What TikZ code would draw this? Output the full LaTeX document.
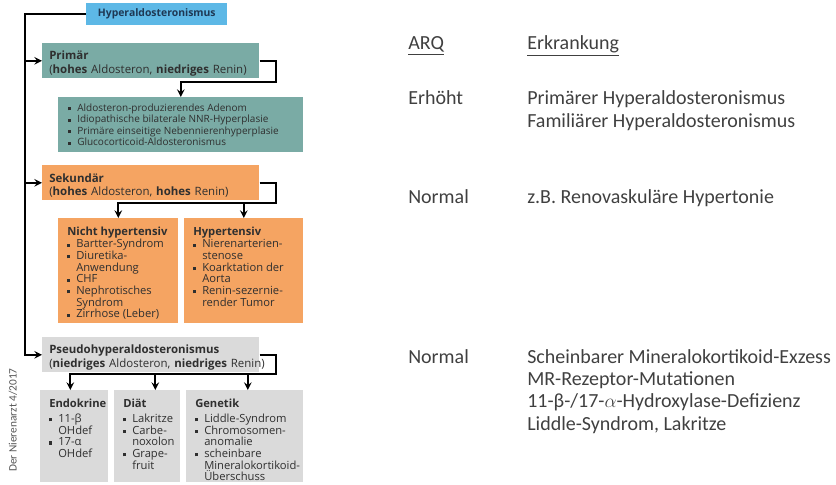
\documentclass[tikz,border=0pt]{standalone}
\usepackage{fontspec}
\setmainfont{Open Sans}
\newfontfamily\calfont{Carlito}

\newlength{\pxu}
\setlength{\pxu}{0.75pt}

\definecolor{hyperblue}{HTML}{5DB8E6}
\definecolor{tealbox}{HTML}{7AABA5}
\definecolor{orangebox}{HTML}{F5A462}
\definecolor{graybox}{HTML}{DADADA}
\definecolor{boxtext}{HTML}{2F2F2F}
\definecolor{navytext}{HTML}{1E3854}
\definecolor{righttext}{HTML}{404040}
\definecolor{srcgray}{HTML}{555555}

\hyphenpenalty=10000
\exhyphenpenalty=10000

% bullet item with hanging indent
\newcommand{\itm}[1]{\par\noindent\hangindent=9\pxu\hangafter=1\makebox[9\pxu][l]{\rule[0.1em]{3.2\pxu}{3.2\pxu}}#1}
% top aligned box contents: width, height, top gap, text
\newcommand{\cellbox}[4]{\parbox[c][#2\pxu][t]{#1\pxu}{\raggedright\leftskip=9\pxu\vspace*{#3\pxu}#4}}
% lines of the table on the right
\newcommand{\rlines}[1]{\parbox[t]{310\pxu}{\raggedright #1}}

\tikzset{
  conn/.style={line width=1.5pt},
  arr/.style={conn,-stealth},
  headbox/.style={anchor=north west, fill=hyperblue, text=navytext, inner sep=0pt,
    minimum width=141\pxu, minimum height=22\pxu, font=\fontsize{7.8}{9}\selectfont\bfseries},
  groupbox/.style={anchor=north west, text=boxtext, text width=203\pxu, inner xsep=7\pxu,
    inner ysep=0pt, minimum height=35\pxu, align=left, font=\fontsize{8.6}{10}\selectfont},
  listbox/.style={anchor=north west, text=boxtext, inner sep=0pt, font=\fontsize{7.5}{8.6}\selectfont},
  subbox/.style={listbox, font=\fontsize{8.4}{8.75}\selectfont},
  rtext/.style={anchor=base west, inner sep=0pt, text=righttext,
    font=\calfont\fontsize{15}{16.8}\selectfont},
}

\begin{document}
\begin{tikzpicture}[x=0.75pt,y=-0.75pt]
  \useasboundingbox (0,0) rectangle (836,485);

  \node[headbox] (hyper) at (86,3) {Hyperaldosteronismus};

  \node[groupbox, fill=tealbox] (prim) at (42,43) {\rule{0pt}{14\pxu}\textbf{Primär}\\\mbox{(\textbf{hohes} Aldosteron, \textbf{niedriges} Renin)}};
  \node[listbox, fill=tealbox] (primlist) at (58,97) {\parbox[c][55\pxu][c]{245\pxu}{\raggedright\leftskip=10\pxu
    \itm{Aldosteron-produzierendes Adenom}
    \itm{Idiopathische bilaterale NNR-Hyperplasie}
    \itm{Primäre einseitige Nebennierenhyperplasie}
    \itm{Glucocorticoid-Aldosteronismus}}};

  \node[groupbox, fill=orangebox] (sek) at (42,165) {\rule{0pt}{14\pxu}\textbf{Sekundär}\\\mbox{(\textbf{hohes} Aldosteron, \textbf{hohes} Renin)}};
  \node[subbox, fill=orangebox] (nht) at (58,218) {\cellbox{120}{105}{8.5}{\textbf{Nicht hypertensiv}\par\vspace{1\pxu}
    \itm{Bartter-Syndrom}
    \itm{Diuretika-\newline Anwendung}
    \itm{CHF}
    \itm{Nephrotisches\newline Syndrom}
    \itm{Zirrhose (Leber)}}};
  \node[subbox, fill=orangebox] (ht) at (184,218) {\cellbox{119}{105}{8.5}{\textbf{Hypertensiv}\par\vspace{1\pxu}
    \itm{Nierenarterien-\newline stenose}
    \itm{Koarktation der\newline Aorta}
    \itm{Renin-sezernie-\newline render Tumor}}};

  \node[groupbox, fill=graybox] (pseudo) at (42,337) {\rule{0pt}{14\pxu}\textbf{Pseudohyperaldosteronismus}\\\mbox{(\textbf{niedriges} Aldosteron, \textbf{niedriges} Renin)}};
  \node[subbox, fill=graybox] (endo) at (40,390) {\cellbox{68}{92}{9}{\textbf{Endokrine}\par\vspace{3\pxu}
    \itm{11-β\newline OHdef}
    \itm{17-α\newline OHdef}}};
  \node[subbox, fill=graybox] (diaet) at (114,390) {\cellbox{66}{92}{9}{\textbf{Diät}\par\vspace{3\pxu}
    \itm{Lakritze}
    \itm{Carbe-\newline noxolon}
    \itm{Grape-\newline fruit}}};
  \node[subbox, fill=graybox] (gen) at (186,390) {\cellbox{117}{92}{9}{\textbf{Genetik}\par\vspace{3\pxu}
    \itm{Liddle-Syndrom}
    \itm{Chromosomen-\newline anomalie}
    \itm{scheinbare\newline Mineralokortikoid-\newline Überschuss}}};

  \node[rotate=90, text=srcgray, font=\calfont\fontsize{8.5}{9}\selectfont] (quelle) at (13,420) {Der Nierenarzt 4/2017};

  % main line on the left
  \coordinate (spine) at (25,0);
  \draw[arr] (hyper.west) -| (spine |- pseudo.west) -- (pseudo.west);
  \draw[arr] (spine |- prim.west) -- (prim.west);
  \draw[arr] (spine |- sek.west) -- (sek.west);

  % loops on the right
  \coordinate (primturn) at (276,82);
  \draw[arr] (prim.east) -| (primturn) -| (primlist.north);

  \coordinate (sekturn) at (276,203);
  \draw[arr] (sek.east) -| (sekturn) -| (nht.north);
  \draw[arr] (sekturn -| ht.north) -- (ht.north);

  \coordinate (pseudoturn) at (276,374);
  \coordinate (endoin) at ([xshift=-4\pxu]endo.north);
  \coordinate (diaetin) at ([xshift=8\pxu]diaet.north);
  \coordinate (genin) at ([xshift=3\pxu]gen.north);
  \draw[arr] (pseudo.east) -| (pseudoturn) -| (endoin);
  \draw[arr] (pseudoturn -| diaetin) -- (diaetin);
  \draw[arr] (pseudoturn -| genin) -- (genin);

  % table on the right
  \node[rtext] (arq) at (408,50) {\underline{ARQ}};
  \node[rtext] (erk) at (527,50) {\underline{Erkrankung}};
  \node[rtext] (erh) at (408,105) {Erhöht};
  \node[rtext] (dxerh) at (527,105) {\rlines{Primärer Hyperaldosteronismus\\Familiärer Hyperaldosteronismus}};
  \node[rtext] (norm1) at (408,203) {Normal};
  \node[rtext] (dxnorm1) at (527,203) {z.B. Renovaskuläre Hypertonie};
  \node[rtext] (norm2) at (408,363) {Normal};
  \node[rtext] (dxnorm2) at (527,363) {\rlines{Scheinbarer Mineralokortikoid-Exzess\\MR-Rezeptor-Mutationen\\11-β-/17-$\alpha$-Hydroxylase-Defizienz\\Liddle-Syndrom, Lakritze}};
\end{tikzpicture}
\end{document}
